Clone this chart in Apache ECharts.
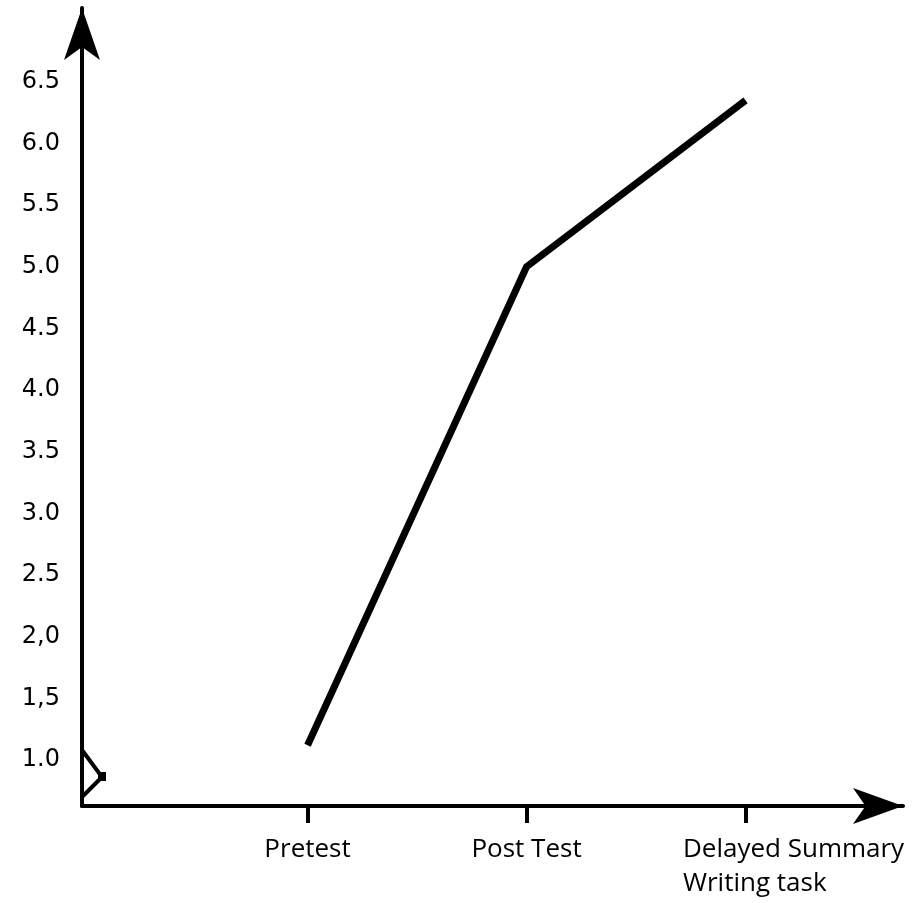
<!DOCTYPE html>
<html>
<head>
<meta charset="utf-8">
<script src="https://cdn.jsdelivr.net/npm/echarts@6/dist/echarts.min.js"></script>
<style>
html,body{margin:0;padding:0;background:#fff;}
#chart{width:917px;height:903px;}
</style>
</head>
<body>
<div id="chart"></div>
<script>
// ---- data ----
const categories = ['Pretest', 'Post Test', 'Delayed Summary\nWriting task'];
const categoryPositions = [1, 2, 3];
const scores = [1.12, 5.0, 6.35];
const yTickValues = [1.0, 1.5, 2.0, 2.5, 3.0, 3.5, 4.0, 4.5, 5.0, 5.5, 6.0, 6.5];
const yTickLabels = ['1.0', '1,5', '2,0', '2.5', '3.0', '3.5', '4.0', '4.5', '5.0', '5.5', '6.0', '6.5'];

const xMin = -0.03, xMax = 3.719;
const yMin = 0.627, yMax = 7.099;

const chart = echarts.init(document.getElementById('chart'), null, {renderer: 'canvas'});

const seriesData = categoryPositions.map((x, i) => [x, scores[i]]);

chart.setOption({
  backgroundColor: '#ffffff',
  animation: false,
  grid: {left: 82, right: 14, top: 8, bottom: 97, containLabel: false},
  xAxis: {
    type: 'value',
    min: xMin,
    max: xMax,
    splitLine: {show: false},
    axisLine: {
      show: true,
      onZero: false,
      symbol: ['none', 'arrow'],
      symbolSize: [27, 50],
      lineStyle: {color: '#000', width: 4}
    },
    axisTick: {
      show: true,
      customValues: categoryPositions,
      inside: false,
      length: 17,
      lineStyle: {color: '#000', width: 4}
    },
    axisLabel: {
      show: true,
      customValues: categoryPositions,
      margin: 27,
      color: '#000',
      fontFamily: 'Open Sans',
      fontSize: 26,
      lineHeight: 34,
      formatter: function (v) {
        const i = categoryPositions.indexOf(Math.round(v));
        if (i < 0) return '';
        const lines = categories[i].split('\n');
        const style = lines.length > 1 ? 'd' : 'p';
        return lines.map(l => '{' + style + '|' + l + '}').join('\n');
      },
      rich: {
        p: {fontFamily: 'Open Sans', fontSize: 26, lineHeight: 34, color: '#000'},
        d: {fontFamily: 'Open Sans', fontSize: 26, lineHeight: 34, color: '#000', align: 'left', padding: [0, 0, 0, 96]}
      }
    }
  },
  yAxis: {
    type: 'value',
    min: yMin,
    max: yMax,
    splitLine: {show: false},
    axisLine: {
      show: true,
      onZero: false,
      symbol: ['none', 'arrow'],
      symbolSize: [27, 52],
      lineStyle: {color: '#000', width: 4}
    },
    axisTick: {show: false},
    axisLabel: {
      show: true,
      customValues: yTickValues,
      margin: 22,
      color: '#000',
      fontFamily: 'DejaVu Sans',
      fontSize: 24,
      formatter: function (v) {
        let best = 0, bd = Infinity;
        yTickValues.forEach((t, i) => { const d = Math.abs(t - v); if (d < bd) { bd = d; best = i; } });
        return yTickLabels[best];
      }
    }
  },
  series: [{
    type: 'line',
    data: seriesData,
    showSymbol: false,
    symbol: 'none',
    lineStyle: {color: '#000', width: 7, join: 'round'},
    clip: false
  }]
});

// axis-break decoration near the origin
const o = chart.convertToPixel({gridIndex: 0}, [xMin, yMin]);
chart.setOption({
  graphic: [
    {
      type: 'polyline',
      shape: {points: [[o[0], o[1] - 56], [o[0] + 20, o[1] - 29], [o[0], o[1] - 9]]},
      style: {stroke: '#000', lineWidth: 4, fill: null}
    },
    {
      type: 'rect',
      shape: {x: o[0] + 16, y: o[1] - 34, width: 8, height: 9},
      style: {fill: '#000'}
    }
  ]
});
</script>
</body>
</html>
